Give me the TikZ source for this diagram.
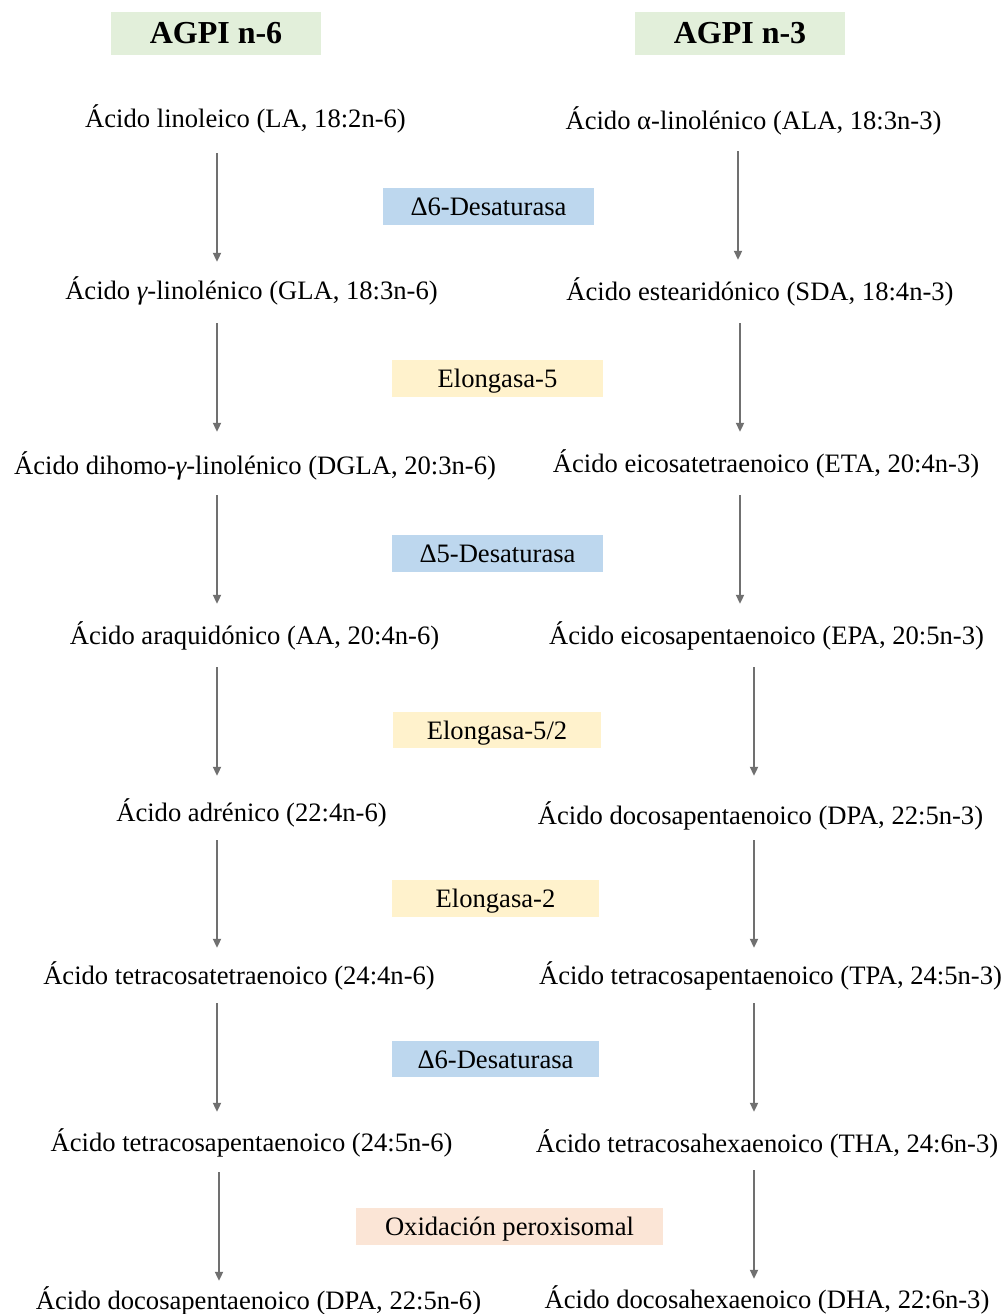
\documentclass[tikz,border=0pt]{standalone}
\usepackage{fontspec}
\setmainfont{Liberation Serif}
\usetikzlibrary{arrows.meta}
\definecolor{hdrgreen}{HTML}{E2EFDA}
\definecolor{enzblue}{HTML}{BDD7EE}
\definecolor{enzyellow}{HTML}{FFF2CC}
\definecolor{enzpeach}{HTML}{FBE5D6}
\definecolor{arrgray}{HTML}{707070}
\begin{document}
\begin{tikzpicture}[x=1pt,y=-1pt,
  hdr/.style={fill=hdrgreen, minimum width=210pt, minimum height=43pt, inner sep=0pt,
    text height=23pt, text depth=3pt,
    font=\fontsize{32}{38}\selectfont\bfseries},
  acid/.style={inner sep=0pt, text height=22pt, text depth=3pt,
    font=\fontsize{26.6}{32}\selectfont},
  enz/.style={minimum width=211pt, minimum height=37pt, inner sep=0pt,
    text height=21.7pt, text depth=3.3pt,
    font=\fontsize{26.6}{32}\selectfont},
  arr/.style={draw=arrgray, line width=2pt, -{Triangle[length=9pt,width=8pt]}}
]
\useasboundingbox (0,0) rectangle (1006,1314);

% headers
\node[hdr] (h6) at (216,33.5) {AGPI n-6};
\node[hdr] (h3) at (740,33.5) {AGPI n-3};

% left column (n-6)
\node[acid] (l1) at (245.5,118) {Ácido linoleico (LA, 18:2n-6)};
\node[acid] (l2) at (251.5,290) {Ácido {\itshape γ}-linolénico (GLA, 18:3n-6)};
\node[acid] (l3) at (255,465) {Ácido dihomo-{\itshape γ}-linolénico (DGLA, 20:3n-6)};
\node[acid] (l4) at (254.5,635) {Ácido araquidónico (AA, 20:4n-6)};
\node[acid] (l5) at (251.5,812) {Ácido adrénico (22:4n-6)};
\node[acid] (l6) at (239,975) {Ácido tetracosatetraenoico (24:4n-6)};
\node[acid] (l7) at (251.5,1142) {Ácido tetracosapentaenoico (24:5n-6)};
\node[acid] (l8) at (258.5,1300) {Ácido docosapentaenoico (DPA, 22:5n-6)};

% right column (n-3)
\node[acid] (r1) at (753.5,120) {Ácido α-linolénico (ALA, 18:3n-3)};
\node[acid] (r2) at (760,291) {Ácido estearidónico (SDA, 18:4n-3)};
\node[acid] (r3) at (766,463) {Ácido eicosatetraenoico (ETA, 20:4n-3)};
\node[acid] (r4) at (766.5,635) {Ácido eicosapentaenoico (EPA, 20:5n-3)};
\node[acid] (r5) at (760.5,815) {Ácido docosapentaenoico (DPA, 22:5n-3)};
\node[acid] (r6) at (770.5,975) {Ácido tetracosapentaenoico (TPA, 24:5n-3)};
\node[acid] (r7) at (767,1143) {Ácido tetracosahexaenoico (THA, 24:6n-3)};
\node[acid] (r8) at (767,1299) {Ácido docosahexaenoico (DHA, 22:6n-3)};

% enzymes
\node[enz, fill=enzblue] (e1) at (488.5,206.5) {Δ6-Desaturasa};
\node[enz, fill=enzyellow] (e2) at (497.5,378.5) {Elongasa-5};
\node[enz, fill=enzblue] (e3) at (497.5,553.5) {Δ5-Desaturasa};
\node[enz, fill=enzyellow, minimum width=208pt, minimum height=36pt] (e4) at (497,730) {Elongasa-5/2};
\node[enz, fill=enzyellow, minimum width=207pt] (e5) at (495.5,898.5) {Elongasa-2};
\node[enz, fill=enzblue, minimum width=207pt, minimum height=36pt] (e6) at (495.5,1059) {Δ6-Desaturasa};
\node[enz, fill=enzpeach, minimum width=307pt] (e7) at (509.5,1226.5) {Oxidación peroxisomal};

% left arrows
\draw[arr, shorten <=22.5pt, shorten >=15.5pt] (l1.south -| 217,0) -- (l2.north -| 217,0);
\draw[arr, shorten <=20.5pt, shorten >=20.5pt] (l2.south -| 217,0) -- (l3.north -| 217,0);
\draw[arr, shorten <=17.5pt, shorten >=18.5pt] (l3.south -| 217,0) -- (l4.north -| 217,0);
\draw[arr, shorten <=19.5pt, shorten >=23.5pt] (l4.south -| 217,0) -- (l5.north -| 217,0);
\draw[arr, shorten <=15.5pt, shorten >=14.5pt] (l5.south -| 217,0) -- (l6.north -| 217,0);
\draw[arr, shorten <=15.5pt, shorten >=17.5pt] (l6.south -| 217,0) -- (l7.north -| 217,0);
\draw[arr, shorten <=17.5pt, shorten >=6.5pt] (l7.south -| 219,0) -- (l8.north -| 219,0);

% right arrows
\draw[arr, shorten <=18.5pt, shorten >=18.5pt] (r1.south -| 738,0) -- (r2.north -| 738,0);
\draw[arr, shorten <=19.5pt, shorten >=18.5pt] (r2.south -| 740,0) -- (r3.north -| 740,0);
\draw[arr, shorten <=19.5pt, shorten >=18.5pt] (r3.south -| 740,0) -- (r4.north -| 740,0);
\draw[arr, shorten <=19.5pt, shorten >=26.5pt] (r4.south -| 754,0) -- (r5.north -| 754,0);
\draw[arr, shorten <=12.5pt, shorten >=14.5pt] (r5.south -| 754,0) -- (r6.north -| 754,0);
\draw[arr, shorten <=15.5pt, shorten >=18.5pt] (r6.south -| 754,0) -- (r7.north -| 754,0);
\draw[arr, shorten <=14.5pt, shorten >=7.5pt] (r7.south -| 754,0) -- (r8.north -| 754,0);
\end{tikzpicture}
\end{document}
